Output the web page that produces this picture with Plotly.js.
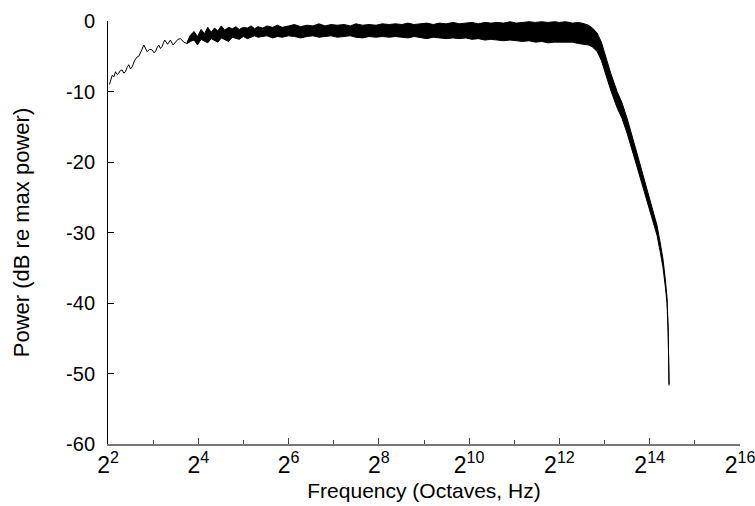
<!DOCTYPE html>
<html>
<head>
<meta charset="utf-8">
<script src="https://cdn.plot.ly/plotly-3.0.1.min.js"></script>
<style>html,body{margin:0;padding:0;background:#fff;}#chart{width:755px;height:506px;}</style>
</head>
<body>
<div id="chart"></div>
<script>
// Low-frequency part: single thin line (Hz, dB)
const freqLow = [4.09, 4.18, 4.27, 4.38, 4.49, 4.60, 4.72, 4.84, 4.97, 5.10, 5.23, 5.36, 5.50, 5.65, 5.80, 6.02, 6.26, 6.42, 6.58, 6.75, 6.93, 7.11, 7.30, 7.58, 7.88, 8.08, 8.29, 8.50, 8.72, 8.95, 9.19, 9.37, 9.56, 9.98, 10.43, 10.85, 11.27, 11.71, 12.16, 12.8, 13.48, 14.18];
const powerLow = [-9.0, -8.2, -7.7, -7.9, -7.2, -7.6, -7.4, -7.0, -6.95, -7.4, -7.2, -6.6, -6.2, -6.8, -6.5, -5.6, -5.1, -5.0, -4.35, -4.0, -3.4, -4.0, -4.35, -4.0, -4.1, -4.5, -4.35, -3.8, -3.4, -3.9, -3.6, -3.1, -2.7, -3.3, -2.7, -3.4, -3.0, -2.6, -2.5, -3.0, -3.2, -2.2];

// Noisy part: upper and lower envelope of the spectrum band (Hz, dB)
const freqBand = [13.48, 14.18, 15.0, 15.8, 16.7, 17.6, 18.5, 19.5, 20.5, 21.6, 22.8, 24, 25.5, 27, 28.5, 30, 32, 34, 36, 38,
  40, 43, 46, 50, 54, 58, 64, 70, 77, 85, 93, 102, 112, 123, 135, 150, 165, 180, 200, 220, 245, 270, 300,
  330, 365, 400, 440, 485, 535, 590, 650, 720, 800, 880, 970, 1070, 1180, 1300, 1430, 1580, 1740, 1920, 2110, 2330, 2570, 2830, 3120, 3440, 3790,
  4096, 4500, 5000, 5500, 6000, 6400, 6800, 7300, 7800, 8255, 9000, 9926, 10700, 11570, 12500, 13490, 14500, 15730, 17000, 18330, 19200, 20100, 20800, 21370, 21750, 22050];
const bandUpper = [-3.0, -2.0, -1.5, -2.2, -1.2, -1.8, -0.9, -1.6, -1.0, -1.4, -0.7, -1.3, -0.9, -1.1, -0.8, -1.2, -0.9, -1.0, -0.7, -1.1,
  -0.8, -1.0, -0.7, -0.9, -0.6, -0.9, -0.7, -0.5, -0.8, -0.6, -0.7, -0.4, -0.7, -0.5, -0.6, -0.5, -0.7, -0.4, -0.6, -0.5, -0.6, -0.4, -0.5,
  -0.4, -0.5, -0.3, -0.5, -0.4, -0.3, -0.5, -0.3, -0.4, -0.2, -0.4, -0.3, -0.2, -0.4, -0.2, -0.3, -0.2, -0.3, -0.1, -0.3, -0.2, -0.1, -0.2, -0.1, -0.2, -0.1,
  -0.2, -0.1, -0.3, -0.2, -0.4, -0.6, -1.0, -1.7, -3.0, -4.8, -7.4, -10.0, -11.6, -13.8, -16.2, -18.8, -21.2, -23.8, -26.6, -29.0, -31.3, -33.8, -36.6, -39.2, -43.5, -51.5];
const bandLower = [-3.2, -2.9, -2.7, -3.4, -2.6, -2.8, -3.1, -2.5, -2.7, -3.0, -2.4, -2.6, -2.9, -2.3, -2.5, -2.6, -2.2, -2.5, -2.3, -2.1,
  -2.3, -2.2, -2.1, -2.4, -2.2, -2.3, -2.1, -2.2, -2.4, -2.2, -2.1, -2.3, -2.2, -2.1, -2.3, -2.2, -2.1, -2.3, -2.4, -2.2, -2.3, -2.2, -2.3,
  -2.2, -2.3, -2.4, -2.2, -2.3, -2.5, -2.3, -2.4, -2.5, -2.4, -2.5, -2.4, -2.6, -2.5, -2.7, -2.6, -2.7, -2.8, -2.7, -2.8, -2.9, -2.8, -3.0, -2.9, -3.1, -3.0,
  -3.0, -3.1, -3.0, -3.2, -3.3, -3.4, -3.7, -4.3, -5.6, -7.3, -9.8, -12.3, -13.8, -15.9, -18.2, -20.7, -23.0, -25.5, -28.2, -30.4, -32.6, -35.0, -37.6, -40.0, -44.2, -51.7];

const xTickVals = [4, 16, 64, 256, 1024, 4096, 16384, 65536];
const xTickText = ['2<sup>2</sup>', '2<sup>4</sup>', '2<sup>6</sup>', '2<sup>8</sup>', '2<sup>10</sup>', '2<sup>12</sup>', '2<sup>14</sup>', '2<sup>16</sup>'];
const xMinorVals = [8, 32, 128, 512, 2048, 8192, 32768];
const yTickVals = [-60, -50, -40, -30, -20, -10, 0];
const yTickText = ['-60', '-50', '-40', '-30', '-20', '-10', '0'];

const traces = [
  {x: freqBand, y: bandLower, type: 'scatter', mode: 'lines', line: {color: '#000', width: 1}, hoverinfo: 'skip'},
  {x: freqBand, y: bandUpper, type: 'scatter', mode: 'lines', line: {color: '#000', width: 1}, fill: 'tonexty', fillcolor: '#000', hoverinfo: 'skip'},
  {x: freqLow, y: powerLow, type: 'scatter', mode: 'lines', line: {color: '#000', width: 1}}
];

const font = 'Liberation Sans, Arial, sans-serif';
const layout = {
  width: 755, height: 506,
  margin: {l: 108, r: 15, t: 21, b: 62},
  paper_bgcolor: '#fff', plot_bgcolor: '#fff',
  showlegend: false,
  font: {family: font, color: '#000', size: 20},
  xaxis: {
    type: 'log',
    range: [Math.log10(4), Math.log10(65536)],
    tickmode: 'array', tickvals: xTickVals, ticktext: xTickText,
    ticks: 'inside', ticklen: 6, tickwidth: 1, tickcolor: '#444',
    minor: {tickmode: 'array', tickvals: xMinorVals, ticks: 'inside', ticklen: 4, tickcolor: '#444', showgrid: false},
    showline: true, linecolor: '#777', linewidth: 1.5,
    showgrid: false, zeroline: false,
    ticklabeloverflow: 'allow',
    tickfont: {family: font, size: 23, color: '#000'},
    title: {text: 'Frequency (Octaves, Hz)', font: {family: font, size: 21, color: '#000'}, standoff: 6}
  },
  yaxis: {
    range: [-60, 0],
    tickmode: 'array', tickvals: yTickVals, ticktext: yTickText,
    ticks: 'inside', ticklen: 6, tickwidth: 1, tickcolor: '#000',
    showline: true, linecolor: '#000', linewidth: 1,
    showgrid: false, zeroline: false,
    ticklabelstandoff: 8,
    tickfont: {family: font, size: 20, color: '#000'},
    title: {text: 'Power (dB re max power)', font: {family: font, size: 22, color: '#000'}, standoff: 30}
  }
};

Plotly.newPlot('chart', traces, layout, {displayModeBar: false, staticPlot: true});
</script>
</body>
</html>
